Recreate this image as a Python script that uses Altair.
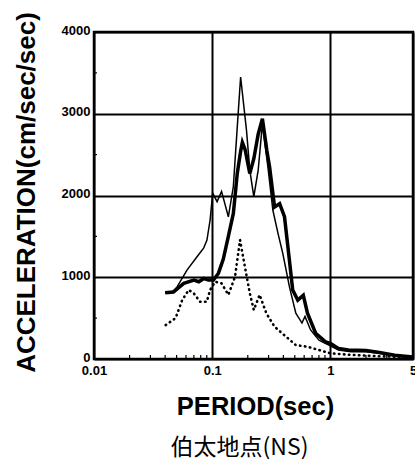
import altair as alt
import pandas as pd

# Thick solid series
thick_period = [0.040, 0.047, 0.0575, 0.070, 0.077, 0.085, 0.093, 0.1025, 0.113, 0.124, 0.137, 0.151,
                0.163, 0.174, 0.180, 0.190, 0.208, 0.225, 0.245, 0.266, 0.290, 0.306, 0.337, 0.372,
                0.409, 0.450, 0.480, 0.530, 0.590, 0.640, 0.750, 0.910, 1.00, 1.17, 1.42, 2.0, 2.6, 3.5, 5.0]
thick_acc = [810, 820, 925, 965, 945, 985, 965, 965, 1050, 1220, 1500, 1780,
             2270, 2540, 2650, 2560, 2270, 2450, 2750, 2940, 2550, 2350, 1860, 1900,
             1740, 1210, 845, 720, 780, 560, 315, 210, 190, 130, 110, 105, 80, 45, 25]

# Thin solid series
thin_period = [0.040, 0.047, 0.0506, 0.0614, 0.0744, 0.0846, 0.0903, 0.096, 0.101, 0.110, 0.120, 0.137,
               0.151, 0.163, 0.174, 0.185, 0.195, 0.208, 0.225, 0.245, 0.266, 0.296, 0.326, 0.360,
               0.396, 0.450, 0.510, 0.575, 0.610, 0.680, 0.800, 0.970, 1.17, 1.5, 2.0, 2.6, 3.5, 5.0]
thin_acc = [810, 830, 885, 1090, 1250, 1355, 1455, 1700, 2030, 1925, 2050, 1740,
            2110, 2840, 3450, 3100, 2800, 2310, 1985, 2310, 2880, 2350, 1820, 1540,
            1290, 885, 560, 440, 520, 355, 230, 170, 110, 90, 90, 70, 40, 20]

# Dotted series
dot_period = [0.0404, 0.049, 0.0557, 0.0633, 0.0697, 0.079, 0.090, 0.096, 0.106, 0.120, 0.137, 0.156,
              0.172, 0.189, 0.208, 0.225, 0.252, 0.287, 0.337, 0.420, 0.510, 0.640, 0.800, 1.0,
              1.5, 2.5, 5.0]
dot_acc = [415, 500, 720, 845, 805, 700, 700, 845, 945, 925, 785, 1005,
           1455, 1130, 805, 600, 785, 560, 395, 275, 170, 150, 110, 70,
           50, 35, 20]

x_tick_values = [0.01, 0.1, 1, 5]
y_tick_values = [0, 1000, 2000, 3000, 4000]
x_minor = [0.02, 0.03, 0.04, 0.05, 0.06, 0.07, 0.08, 0.09,
           0.2, 0.3, 0.4, 0.5, 0.6, 0.7, 0.8, 0.9, 2, 3, 4]
y_minor = [500, 1500, 2500, 3500]

thick_df = pd.DataFrame({"period": thick_period, "acc": thick_acc})
thin_df = pd.DataFrame({"period": thin_period, "acc": thin_acc})
dot_df = pd.DataFrame({"period": dot_period, "acc": dot_acc})

FONT = "Liberation Sans"

xscale = alt.Scale(type="log", domain=[0.01, 5], nice=False)
yscale = alt.Scale(domain=[0, 4000], nice=False)

xaxis = alt.Axis(
    values=x_tick_values,
    labelExpr="datum.value == 0.01 ? '0.01' : datum.value == 0.1 ? '0.1' : datum.value == 1 ? '1' : '5'",
    grid=True, gridColor="black", gridWidth=2, gridOpacity=1,
    domain=False, ticks=False,
    labelFont=FONT, labelFontWeight="bold", labelFontSize=13, labelColor="black",
    labelPadding=5, labelFlush=False, labelOverlap=False,
    title="PERIOD(sec)", titleFont=FONT, titleFontSize=25.5, titleFontWeight="bold",
    titleColor="black", titleBaseline="alphabetic", titleY=55, titleX=161,
)
yaxis = alt.Axis(
    values=y_tick_values, format="d",
    grid=True, gridColor="black", gridWidth=2, gridOpacity=1,
    domain=False, ticks=False,
    labelFont=FONT, labelFontWeight="bold", labelFontSize=13, labelColor="black",
    labelPadding=4, labelOffset=-2, labelFlush=False, labelOverlap=False,
    title="ACCELERATION(cm/sec/sec)", titleFont=FONT, titleFontSize=26, titleFontWeight="bold",
    titleColor="black", titleBaseline="alphabetic", titleX=-60, titleY=160, titleAngle=-90,
    titleAlign="center",
)

base_x = alt.X("period:Q", scale=xscale, axis=xaxis)
base_y = alt.Y("acc:Q", scale=yscale, axis=yaxis)

thick = alt.Chart(thick_df).mark_line(color="black", strokeWidth=3.5, clip=True).encode(
    x=base_x, y=base_y, order="period:Q")
thin = alt.Chart(thin_df).mark_line(color="black", strokeWidth=1.5, clip=True).encode(
    x=alt.X("period:Q", scale=xscale), y=alt.Y("acc:Q", scale=yscale), order="period:Q")
dotted = alt.Chart(dot_df).mark_line(color="black", strokeWidth=2.6, strokeDash=[0.5, 4.5],
                                     strokeCap="round", clip=True).encode(
    x=alt.X("period:Q", scale=xscale), y=alt.Y("acc:Q", scale=yscale), order="period:Q")

minor_x = alt.Chart(pd.DataFrame({"period": x_minor})).mark_rule(color="black", strokeWidth=1.2).encode(
    x=alt.X("period:Q", scale=xscale), y=alt.value(327), y2=alt.value(323))
minor_y = alt.Chart(pd.DataFrame({"acc": y_minor})).mark_rule(color="black", strokeWidth=1.2).encode(
    y=alt.Y("acc:Q", scale=yscale), x=alt.value(0), x2=alt.value(3))

chart = alt.layer(minor_x, minor_y, dotted, thin, thick).properties(
    width=319, height=327,
    autosize=alt.AutoSizeParams(type="none"),
    padding={"left": 94, "top": 32, "right": 2, "bottom": 105},
    background="white",
    title=alt.TitleParams(
        text="伯太地点(NS)", orient="bottom", anchor="middle", dx=-14, offset=17,
        font="Noto Sans CJK JP", fontSize=23, fontWeight="normal", color="black",
    ),
).configure_view(stroke="black", strokeWidth=2.5)

chart.save("out.html", embed_options={"renderer": "svg", "actions": False})
